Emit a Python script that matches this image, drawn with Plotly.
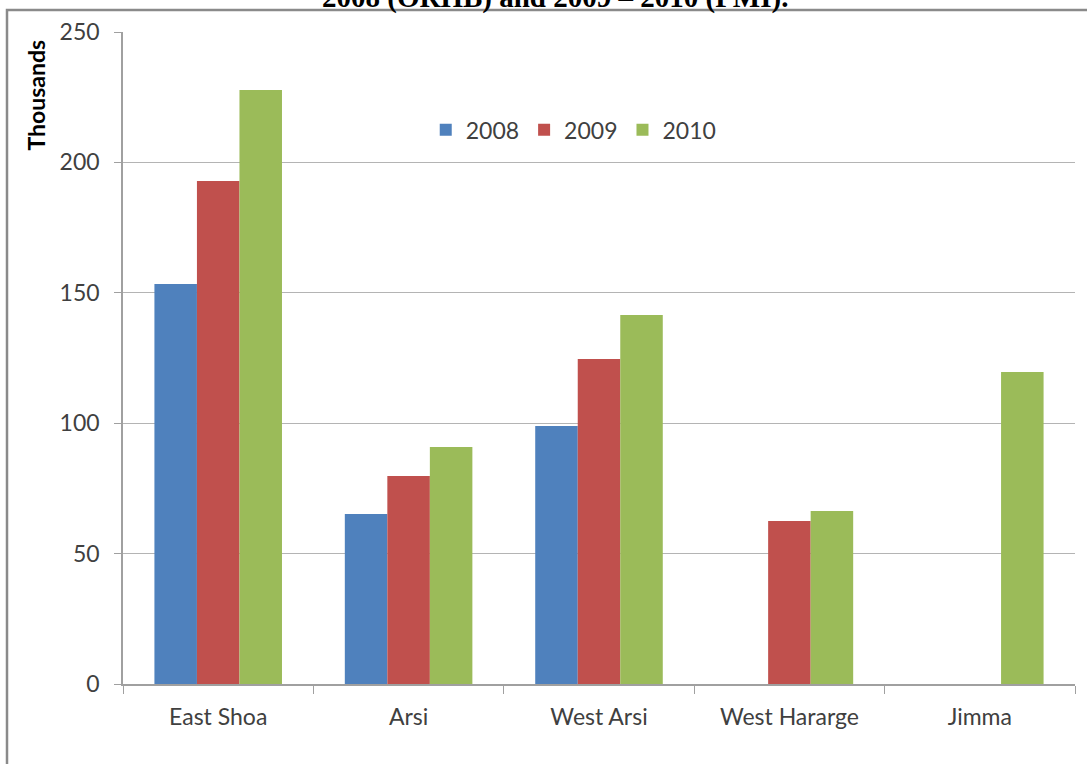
import plotly.graph_objects as go

categories = ["East Shoa", "Arsi", "West Arsi", "West Hararge", "Jimma"]
v2008 = [153.4, 65.2, 98.9, None, None]
v2009 = [192.9, 79.8, 124.6, 62.5, None]
v2010 = [227.8, 90.9, 141.5, 66.3, 119.6]
series = [("2008", v2008, "#4F81BD"), ("2009", v2009, "#C0504D"), ("2010", v2010, "#9BBB59")]
yticks = [0, 50, 100, 150, 200, 250]

fig = go.Figure()
for name, vals, col in series:
    fig.add_trace(go.Bar(x=categories, y=vals, name=name, marker_color=col,
                         marker_line_width=0))

font_main = "Lato, Open Sans, sans-serif"
fig.update_layout(
    width=1087, height=764,
    margin=dict(l=123, r=12, t=32, b=80),
    paper_bgcolor="white", plot_bgcolor="white",
    barmode="group", bargap=0.33, bargroupgap=0,
    font=dict(family=font_main, size=18, color="#404040"),
    legend=dict(orientation="h", x=0.318, y=0.85, xanchor="left", yanchor="middle",
                font=dict(size=23, color="#404040"), bgcolor="rgba(0,0,0,0)",
                itemwidth=30, tracegroupgap=0),
    xaxis=dict(showline=True, linecolor="#a0a0a0", linewidth=1.5, ticks="outside",
               tickson="boundaries", ticklen=8, tickcolor="#a0a0a0",
               ticklabelstandoff=12,
               tickfont=dict(size=23, color="#404040"), showgrid=False),
    yaxis=dict(range=[0, 250], tickvals=yticks, showline=True, linecolor="#a0a0a0",
               linewidth=1.5, ticks="outside", ticklen=7, tickcolor="#a0a0a0",
               ticklabelstandoff=10,
               showgrid=True, gridcolor="#b4b4b4", gridwidth=1.2,
               tickfont=dict(size=23, color="#404040"), zeroline=False),
)

# outer chart frame
fig.add_shape(type="rect", xref="paper", yref="paper",
              x0=(7 - 123) / 952, x1=(1095 - 123) / 952,
              y0=(684 - 772) / 652, y1=(684 - 10) / 652,
              line=dict(color="#8a8a8a", width=2.5), fillcolor="rgba(0,0,0,0)", layer="below")

fig.add_annotation(text="<b>Thousands</b>", xref="paper", yref="paper",
                   x=(36 - 123) / 952, y=(684 - 38) / 652, xanchor="center", yanchor="top",
                   textangle=-90, showarrow=False,
                   font=dict(family=font_main, size=23, color="#000000"))

fig.add_annotation(text="<b>2008 (ORHB) and 2009 – 2010 (PMI).</b>", xref="paper", yref="paper",
                   x=(555 - 123) / 952, y=(684 - 16) / 652, xanchor="center", yanchor="bottom",
                   showarrow=False,
                   font=dict(family="Liberation Serif, Times New Roman, serif", size=29, color="#000000"))

fig.write_html("out.html")
